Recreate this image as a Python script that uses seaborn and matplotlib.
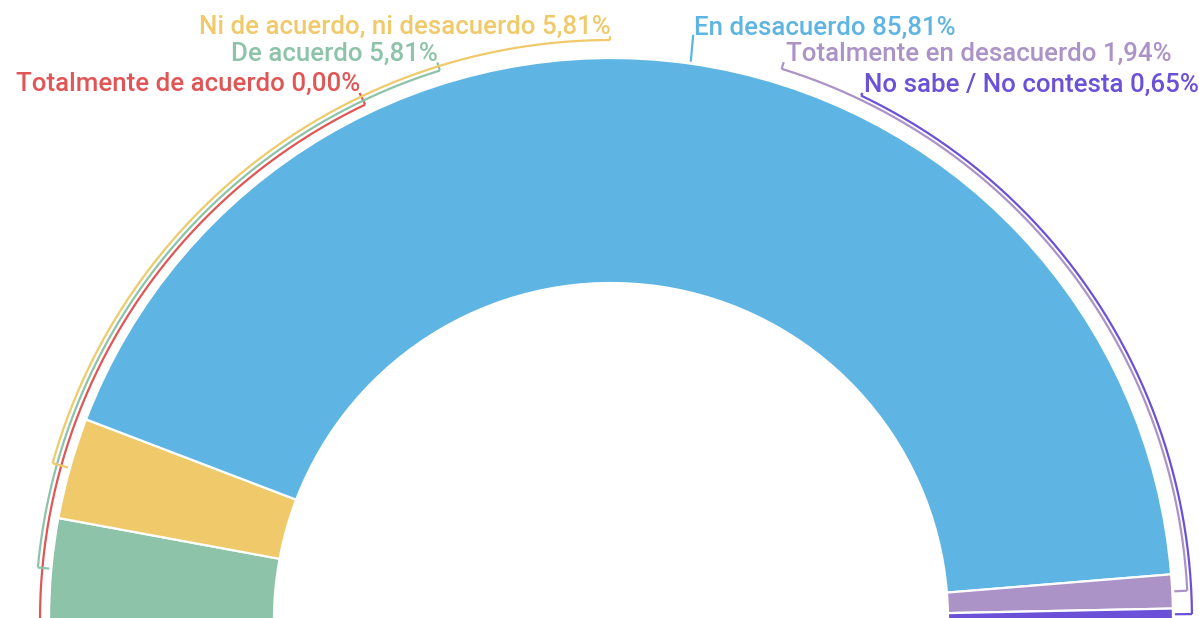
import numpy as np
import matplotlib
matplotlib.use("Agg")
import matplotlib.pyplot as plt
import seaborn as sns

# Survey answers, in the order they run round the half donut (left to right)
categories = [
    "Totalmente de acuerdo",
    "De acuerdo",
    "Ni de acuerdo, ni desacuerdo",
    "En desacuerdo",
    "Totalmente en desacuerdo",
    "No sabe / No contesta",
]
percentages = [0.00, 5.81, 5.81, 85.81, 1.94, 0.65]

slice_colors = ["#E05656", "#8DC3A8", "#F0CA6A", "#5EB5E3", "#AB92C7", "#6B50D8"]
text_colors = ["#E05656", "#8DC3A8", "#F0CA6A", "#5EB5E3", "#AB92C7", "#6B50D8"]

# Label layout: angle (deg) where each leader ends, radius of its bracket arc,
# and which side of the leader the text sits on
label_angles = [115.5, 107.3, 90.1, 82.0, 72.8, 64.5]
bracket_radii = [571, 575.5, 580, None, 577, 581]
label_sides = ["right", "right", "right", "left", "left", "left"]

sns.set_theme(style="white")
plt.rcParams["font.family"] = ["Roboto", "DejaVu Sans"]

W, H = 1199, 618
fig = plt.figure(figsize=(W / 100, H / 100), dpi=100)
ax = fig.add_axes([0, 0, 1, 1])

cx, cy = 611, -2
r_out, r_in = 562, 337
total = sum(percentages)

wedges, _ = ax.pie(
    percentages + [total],
    colors=slice_colors + ["white"],
    startangle=180,
    counterclock=False,
    radius=r_out,
    center=(cx, cy),
    wedgeprops=dict(width=r_out - r_in, edgecolor="white", linewidth=1.6),
)
wedges[-1].set_visible(False)

# mid angle of every slice, measured like the pie does
cum = np.concatenate([[0], np.cumsum(percentages)])
starts = 180 - cum[:-1] / total * 180
ends = 180 - cum[1:] / total * 180
mids = (starts + ends) / 2


def polar(r, a):
    t = np.deg2rad(a)
    return cx + r * np.cos(t), cy + r * np.sin(t)


tick_in = 564
tick_out = 584

for i, (name, val) in enumerate(zip(categories, percentages)):
    col = text_colors[i]
    lw = 1.6
    rb = bracket_radii[i]
    a_end = label_angles[i]
    if rb is None:
        # short radial leader for the big slice
        x0, y0 = polar(r_out + 2, mids[i])
        x1, y1 = polar(591, a_end)
        ax.plot([x0, x1], [y0, y1], color=col, lw=lw, solid_capstyle="butt")
        tx, ty = x1 + 1, y1
    else:
        ang = np.linspace(mids[i], a_end, 200)
        xs, ys = polar(rb, ang)
        ax.plot(xs, ys, color=col, lw=lw, solid_capstyle="butt")
        # inward tick at the slice
        xa, ya = polar(np.array([tick_in, rb]), mids[i])
        ax.plot(xa, ya, color=col, lw=lw, solid_capstyle="butt")
        # outward tick at the label
        xb, yb = polar(np.array([rb, tick_out]), a_end)
        ax.plot(xb, yb, color=col, lw=lw, solid_capstyle="butt")
        tx, ty = xb[-1], yb[-1]
        if label_sides[i] == "right":
            tx, ty = tx + 1, ty + 2
        else:
            tx, ty = tx + 2, ty + 1
    label = f"{name} {val:.2f}%".replace(".", ",")
    ax.text(tx, ty, label, ha=label_sides[i], va="baseline",
            fontsize=18.6, fontweight="medium", color=col)

ax.set_xlim(0, W)
ax.set_ylim(0, H)
ax.set_aspect("equal")
ax.axis("off")

fig.savefig("out.png", dpi=100, facecolor="white")
